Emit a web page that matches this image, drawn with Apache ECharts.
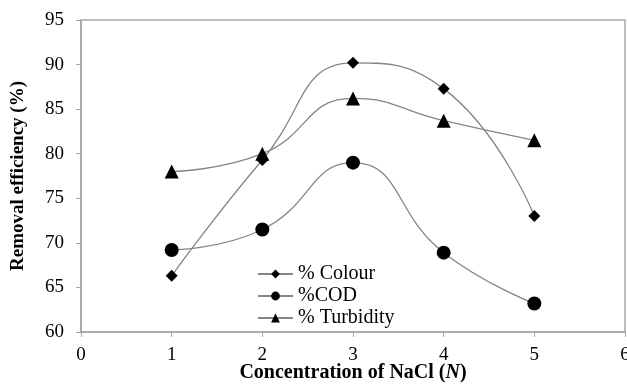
<!DOCTYPE html>
<html>
<head>
<meta charset="utf-8">
<script src="https://cdn.jsdelivr.net/npm/echarts@6/dist/echarts.min.js"></script>
<style>
    html, body { margin: 0; padding: 0; background: #fff; }
    #chart { width: 627px; height: 387px; }
</style>
</head>
<body>
<div id="chart"></div>
<script>
// NaCl concentration (N)
const conc = [1, 2, 3, 4, 5];
// removal efficiency (%)
const colour = [66.3, 79.3, 90.2, 87.3, 73.0];
const cod = [69.2, 71.5, 79.0, 68.9, 63.2];
const turbidity = [78.0, 80.0, 86.2, 83.7, 81.5];

const pairs = (ys) => conc.map((x, i) => [x, ys[i]]);

const serif = 'Liberation Serif, Times New Roman, serif';
const lineGray = '#858585';
const axisGray = '#a6a6a6';

const mkSeries = (name, ys, symbol, size) => ({
    name: name,
    type: 'line',
    data: pairs(ys),
    smooth: 0.5,
    symbol: symbol,
    symbolSize: size,
    itemStyle: { color: '#000' },
    lineStyle: { color: lineGray, width: 1.3 },
    emphasis: { disabled: true }
});

const option = {
    backgroundColor: '#fff',
    animation: false,
    grid: {
        left: 81,
        right: 2,
        top: 20,
        bottom: 55,
        outerBoundsMode: 'none',
        containLabel: false,
        show: true,
        borderColor: axisGray,
        borderWidth: 1.5
    },
    legend: {
        orient: 'vertical',
        left: 257,
        top: 264,
        padding: 0,
        itemWidth: 35,
        itemHeight: 11,
        itemGap: 2,
        textStyle: { fontFamily: serif, fontSize: 20, lineHeight: 20, color: '#000' },
        data: ['% Colour', '%COD', '% Turbidity']
    },
    xAxis: {
        type: 'value',
        min: 0,
        max: 6,
        interval: 1,
        name: 'Concentration of NaCl ({i|N})',
        nameLocation: 'middle',
        nameGap: 30,
        nameMoveOverlap: false,
        nameTextStyle: {
            fontFamily: serif, fontSize: 20, fontWeight: 'bold', color: '#000', lineHeight: 22,
            rich: { i: { fontFamily: serif, fontSize: 20, fontWeight: 'bold', fontStyle: 'italic', color: '#000', lineHeight: 22 } }
        },
        axisLine: { lineStyle: { color: axisGray, width: 1.5 } },
        axisTick: { show: true, length: 5, lineStyle: { color: axisGray } },
        axisLabel: { fontFamily: serif, fontSize: 19, color: '#000', margin: 14 },
        splitLine: { show: false }
    },
    yAxis: {
        type: 'value',
        min: 60,
        max: 95,
        interval: 5,
        name: 'Removal efficiency (%)',
        nameLocation: 'middle',
        nameGap: 53,
        nameMoveOverlap: false,
        nameTextStyle: { fontFamily: serif, fontSize: 19, fontWeight: 'bold', color: '#000' },
        axisLine: { show: true, lineStyle: { color: axisGray, width: 1.5 } },
        axisTick: { show: true, length: 5, lineStyle: { color: axisGray } },
        axisLabel: { fontFamily: serif, fontSize: 19, color: '#000', margin: 17 },
        splitLine: { show: false }
    },
    series: [
        mkSeries('% Colour', colour, 'diamond', 12),
        mkSeries('%COD', cod, 'circle', 14),
        mkSeries('% Turbidity', turbidity, 'triangle', 14)
    ]
};

const chart = echarts.init(document.getElementById('chart'));
chart.setOption(option);
</script>
</body>
</html>
